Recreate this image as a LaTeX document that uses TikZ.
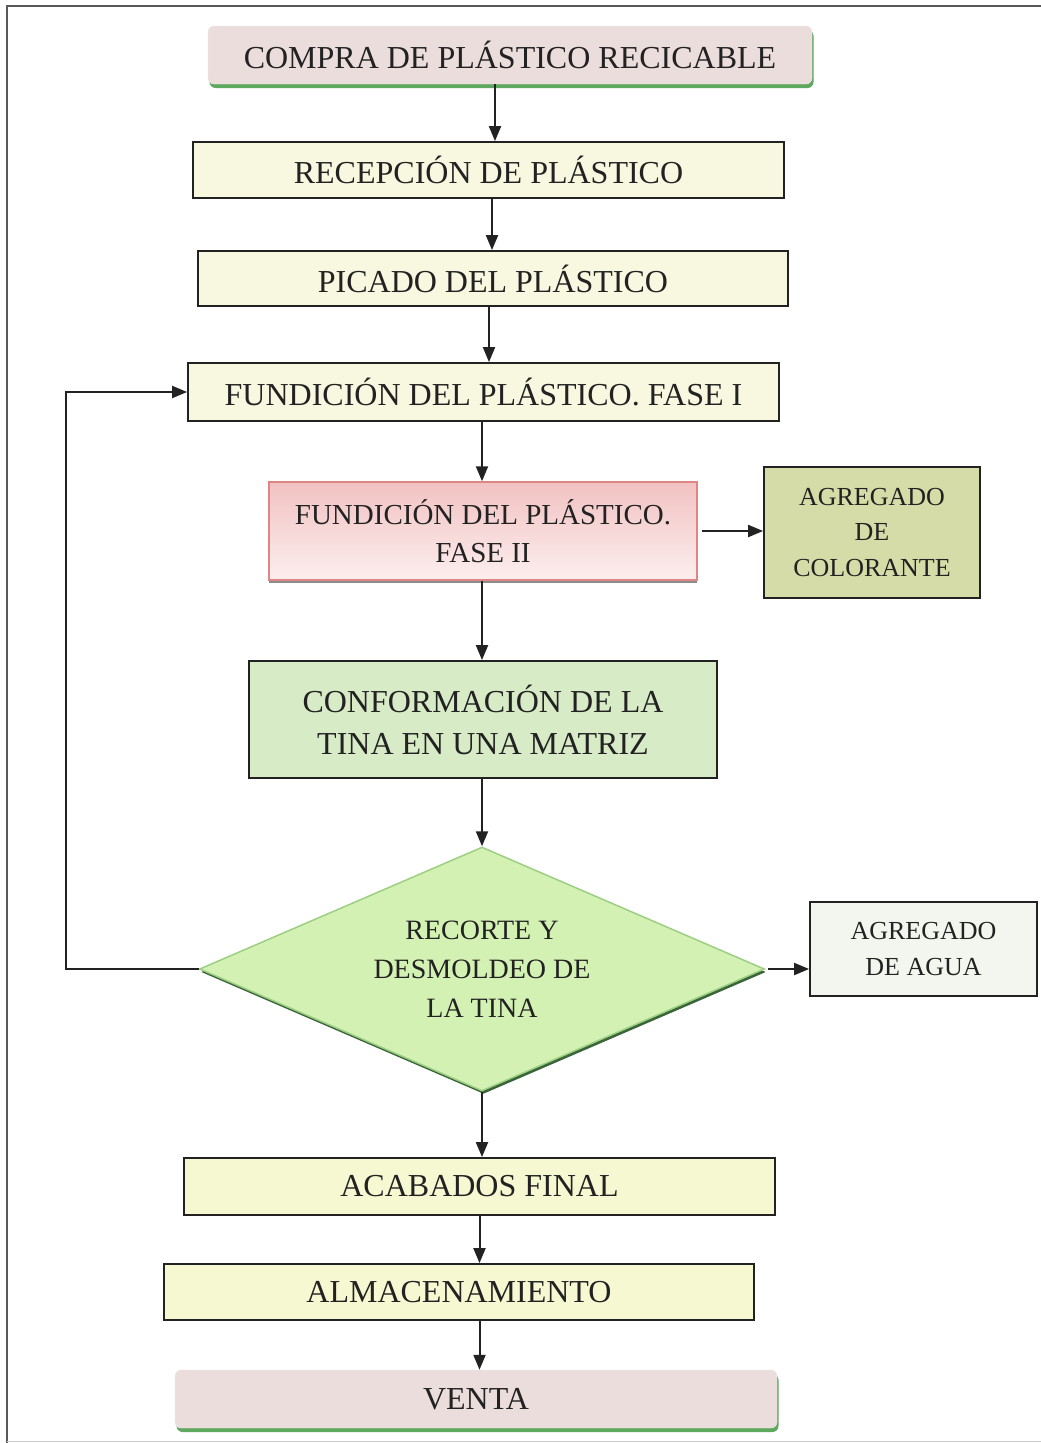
\documentclass[tikz,border=0pt]{standalone}
\usepackage{fontspec}
\setmainfont{Liberation Serif}
\usetikzlibrary{arrows.meta,shapes.geometric,calc}
\definecolor{pinkfill}{HTML}{EBDDDC}
\definecolor{shgreen}{HTML}{5FA85F}
\definecolor{creamA}{HTML}{F8F7E0}
\definecolor{yellowB}{HTML}{F6F8D2}
\definecolor{fundtop}{HTML}{F2C2C2}
\definecolor{fundbot}{HTML}{FCEEEE}
\definecolor{fundline}{HTML}{E08585}
\definecolor{colorfill}{HTML}{D6DCA7}
\definecolor{conffill}{HTML}{D8EBC7}
\definecolor{diafill}{HTML}{D4F1B4}
\definecolor{dialine}{HTML}{9CCF82}
\definecolor{aguafill}{HTML}{F3F6EF}
\definecolor{ink}{HTML}{222222}
\begin{document}
\begin{tikzpicture}[x=1pt,y=-1pt,
  every node/.style={inner sep=0pt, align=center, text=ink},
  big/.style={font=\fontsize{32}{42}\selectfont},
  mid/.style={font=\fontsize{29}{38}\selectfont},
  small/.style={font=\fontsize{26}{35.5}\selectfont},
  stepbox/.style={draw=ink, line width=1.8pt, rectangle},
  roundbox/.style={rectangle, rounded corners=6pt, fill=pinkfill, draw=pinkfill!80!black!30,
     preaction={fill=shgreen, transform canvas={xshift=1.5pt, yshift=-4pt}}},
  conn/.style={draw=ink, line width=2pt, -{Triangle[length=15pt,width=12pt]}}
]
\useasboundingbox (0,0) rectangle (1041,1443);
% outer frame
\draw[line width=2pt, black!65] (1041,6) -- (7,6) -- (7,1443);
\draw[line width=1pt, black!20] (7,1441) -- (1041,1441);

% nodes
\node[roundbox, big, minimum width=604pt, minimum height=58pt] (compra) at (510,55) {COMPRA DE PLÁSTICO RECICABLE};
\node[stepbox, big, fill=creamA, minimum width=591pt, minimum height=56pt] (recep) at (488.5,170) {RECEPCIÓN DE PLÁSTICO};
\node[stepbox, big, fill=creamA, minimum width=590pt, minimum height=55pt] (picado) at (493,278.5) {PICADO DEL PLÁSTICO};
\node[stepbox, big, fill=creamA, minimum width=591pt, minimum height=58pt] (fund1) at (483.5,392) {FUNDICIÓN DEL PLÁSTICO. FASE I};
\node[rectangle, draw=fundline, line width=1.5pt, top color=fundtop, bottom color=fundbot, mid,
  preaction={fill=black!45, transform canvas={yshift=-3pt}},
  minimum width=428pt, minimum height=98pt] (fund2) at (483,531) {FUNDICIÓN DEL PLÁSTICO.\\FASE II};
\node[stepbox, small, fill=colorfill, minimum width=216pt, minimum height=131pt] (color) at (872,532.5) {AGREGADO\\DE\\COLORANTE};
\node[stepbox, big, fill=conffill, minimum width=468pt, minimum height=117pt] (conf) at (483,719.5) {CONFORMACIÓN DE LA\\TINA EN UNA MATRIZ};
\node[diamond, aspect=2.3, draw=dialine, line width=1.5pt, fill=diafill,
  preaction={fill=black!40!shgreen, transform canvas={xshift=1.5pt, yshift=-3pt}},
  font=\fontsize{28}{39}\selectfont, minimum width=565pt, minimum height=244pt] (dia) at (482,969) {RECORTE Y\\DESMOLDEO DE\\LA TINA};
\node[stepbox, small, fill=aguafill, minimum width=227pt, minimum height=94pt] (agua) at (923.5,949) {AGREGADO\\DE AGUA};
\node[stepbox, big, fill=yellowB, minimum width=591pt, minimum height=57pt] (acab) at (479.5,1186.5) {ACABADOS FINAL};
\node[stepbox, big, fill=yellowB, minimum width=590pt, minimum height=56pt] (alma) at (459,1292) {ALMACENAMIENTO};
\node[roundbox, big, minimum width=602pt, minimum height=58pt] (venta) at (476,1399) {VENTA};

% connectors
\draw[conn] ([xshift=-15pt]compra.south) -- ([xshift=-15pt]compra.south |- recep.north);
\draw[conn] ([xshift=3.5pt]recep.south) -- ([xshift=3.5pt]recep.south |- picado.north);
\draw[conn] ([xshift=-4pt]picado.south) -- ([xshift=-4pt]picado.south |- fund1.north);
\draw[conn] ([xshift=-1.5pt]fund1.south) -- ([xshift=-1.5pt]fund1.south |- fund2.north);
\draw[conn] ([xshift=4pt]fund2.east) -- (color.west |- fund2.east);
\draw[conn] ([xshift=-1pt]fund2.south) -- ([xshift=-1pt]fund2.south |- conf.north);
\draw[conn] (conf.south -| dia.north) -- (dia.north);
\draw[conn] ([xshift=3pt]dia.east) -- (agua.west |- dia.east);
\draw[conn] (dia.west) -- (66,969) |- (fund1.west);
\draw[conn] (dia.south) -- (dia.south |- acab.north);
\draw[conn] (acab.south) -- (acab.south |- alma.north);
\draw[conn] (acab.south |- alma.south) -- (acab.south |- venta.north);
\end{tikzpicture}
\end{document}
